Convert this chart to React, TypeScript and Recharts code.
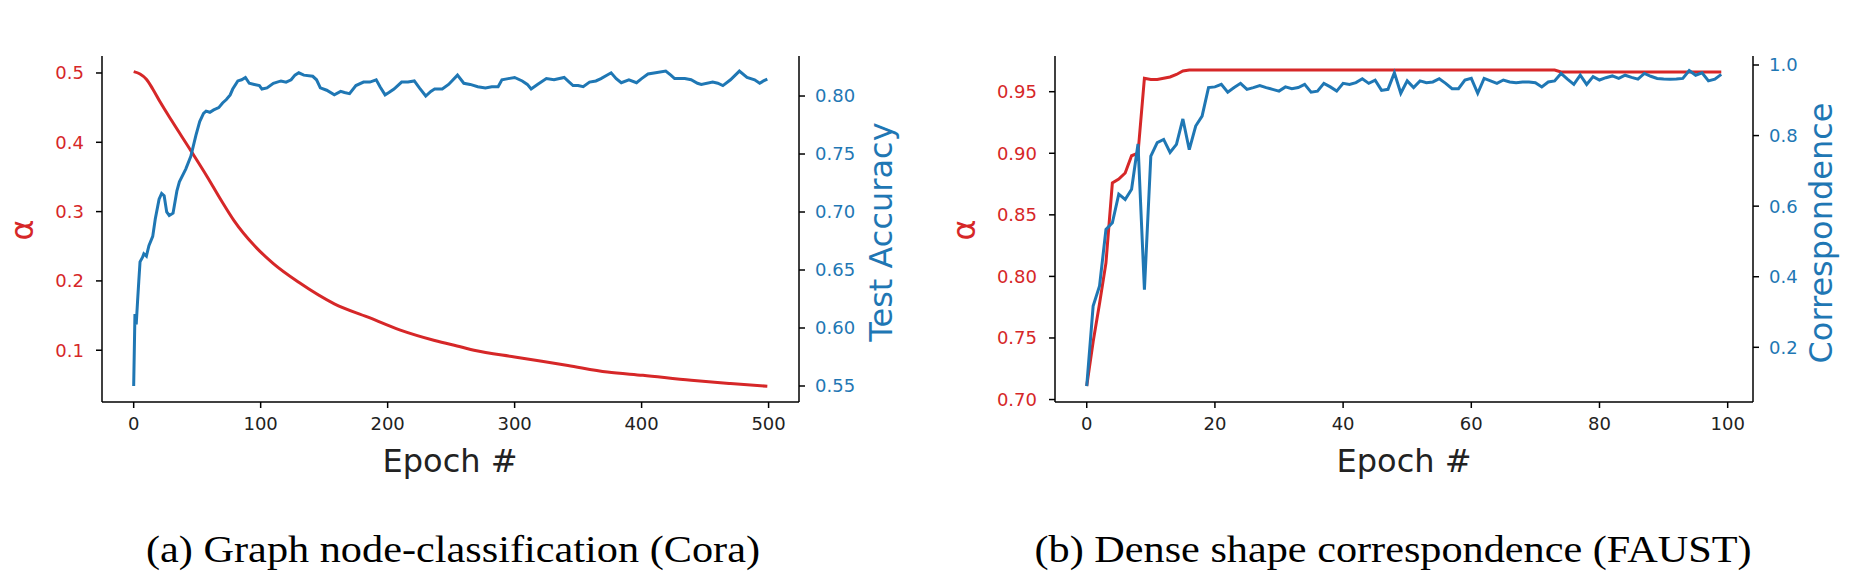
import React from "react";
import { LineChart, Line, XAxis, YAxis } from "recharts";

const RED = "#d62728";
const BLUE = "#1f77b4";
const TICK_FONT = "DejaVu Sans";

// ---------- (a) Cora ----------
const coraAlphaEpochs = [0, 5, 10, 15, 21, 30, 45, 58, 69, 79, 95, 110, 130, 158, 184, 210, 237, 258, 268, 300, 342, 373, 401, 439, 470, 499];
const coraAlpha = [0.502, 0.4985, 0.491, 0.477, 0.4577, 0.431, 0.388, 0.35, 0.316, 0.287, 0.251, 0.225, 0.198, 0.167, 0.148, 0.129, 0.114, 0.1046, 0.1, 0.0902, 0.078, 0.0686, 0.0638, 0.0566, 0.0519, 0.048];

const coraAccEpochs = [0, 1, 2, 3, 4, 5, 7, 8, 10, 12, 15, 17, 20, 22, 24, 26, 28, 31, 34, 36, 41, 45, 49, 52, 55, 57, 60, 63, 67, 70, 73, 76, 78, 82, 85, 88, 91, 95, 99, 101, 105, 110, 116, 120, 124, 127, 130, 134, 141, 144, 147, 152, 158, 163, 166, 170, 175, 181, 186, 191, 194, 198, 201, 205, 211, 216, 221, 225, 230, 234, 237, 243, 248, 255, 260, 265, 271, 277, 282, 287, 290, 295, 300, 306, 310, 313, 318, 325, 331, 339, 343, 346, 350, 354, 359, 364, 368, 376, 380, 384, 390, 396, 400, 405, 411, 419, 423, 426, 434, 439, 444, 447, 456, 460, 464, 470, 477, 483, 489, 493, 496, 499];
const coraAcc = [0.55, 0.612, 0.603, 0.622, 0.64, 0.657, 0.661, 0.664, 0.662, 0.671, 0.679, 0.694, 0.711, 0.716, 0.714, 0.7, 0.697, 0.699, 0.718, 0.726, 0.737, 0.748, 0.766, 0.778, 0.785, 0.787, 0.786, 0.788, 0.79, 0.794, 0.797, 0.801, 0.806, 0.813, 0.814, 0.816, 0.811, 0.81, 0.809, 0.806, 0.807, 0.811, 0.813, 0.812, 0.814, 0.818, 0.82, 0.818, 0.817, 0.814, 0.807, 0.805, 0.801, 0.804, 0.803, 0.802, 0.809, 0.812, 0.812, 0.814, 0.808, 0.801, 0.803, 0.806, 0.812, 0.812, 0.813, 0.807, 0.8, 0.804, 0.806, 0.806, 0.81, 0.818, 0.811, 0.81, 0.808, 0.807, 0.808, 0.808, 0.814, 0.815, 0.816, 0.813, 0.81, 0.806, 0.81, 0.815, 0.814, 0.816, 0.812, 0.809, 0.809, 0.808, 0.812, 0.813, 0.815, 0.82, 0.815, 0.8115, 0.814, 0.8115, 0.815, 0.819, 0.82, 0.8215, 0.818, 0.815, 0.815, 0.814, 0.811, 0.81, 0.812, 0.811, 0.809, 0.814, 0.8215, 0.816, 0.814, 0.811, 0.813, 0.8145];

const coraXTicks = [0, 100, 200, 300, 400, 500];
const coraAlphaTicks = [0.1, 0.2, 0.3, 0.4, 0.5];
const coraAccTicks = [0.55, 0.6, 0.65, 0.7, 0.75, 0.8];

// ---------- (b) FAUST ----------
const faustAlphaEpochs = [0, 1, 2, 3, 4, 5, 6, 7, 8, 9, 10, 11, 12, 13, 14, 15, 16, 73, 74, 99];
const faustAlpha = [0.711, 0.747, 0.778, 0.811, 0.876, 0.879, 0.884, 0.898, 0.9, 0.961, 0.96, 0.96, 0.961, 0.962, 0.964, 0.9668, 0.9676, 0.9676, 0.966, 0.966];

const faustCorrEpochs = [
  0, 1, 2, 3, 4, 5, 6, 7, 8, 9, 10, 11, 12, 13, 14, 15, 16, 17, 18, 19,
  20, 21, 22, 23, 24, 25, 26, 27, 28, 29, 30, 31, 32, 33, 34, 35, 36, 37, 38, 39,
  40, 41, 42, 43, 44, 45, 46, 47, 48, 49, 50, 51, 52, 53, 54, 55, 56, 57, 58, 59,
  60, 61, 62, 63, 64, 65, 66, 67, 68, 69, 70, 71, 72, 73, 74, 75, 76, 77, 78, 79,
  80, 81, 82, 83, 84, 85, 86, 87, 88, 89, 90, 91, 92, 93, 94, 95, 96, 97, 98, 99,
];
const faustCorr = [
  0.09, 0.317, 0.374, 0.534, 0.553, 0.634, 0.619, 0.648, 0.776, 0.363,
  0.742, 0.78, 0.789, 0.752, 0.775, 0.847, 0.76, 0.827, 0.855, 0.936,
  0.938, 0.945, 0.923, 0.936, 0.948, 0.931, 0.936, 0.942, 0.936, 0.931,
  0.926, 0.938, 0.933, 0.936, 0.945, 0.923, 0.926, 0.948, 0.938, 0.926,
  0.948, 0.945, 0.95, 0.961, 0.948, 0.957, 0.928, 0.931, 0.978, 0.92,
  0.955, 0.936, 0.955, 0.95, 0.952, 0.961, 0.948, 0.933, 0.933, 0.957,
  0.962, 0.92, 0.962, 0.955, 0.948, 0.9575, 0.952, 0.95, 0.952, 0.952,
  0.95, 0.938, 0.952, 0.955, 0.976, 0.96, 0.945, 0.971, 0.945, 0.967,
  0.9575, 0.964, 0.969, 0.962, 0.971, 0.965, 0.96, 0.976, 0.968, 0.962,
  0.96, 0.9594, 0.96, 0.962, 0.984, 0.971, 0.978, 0.955, 0.96, 0.9735,
];

const faustXTicks = [0, 20, 40, 60, 80, 100];
const faustAlphaTicks = [0.7, 0.75, 0.8, 0.85, 0.9, 0.95];
const faustCorrTicks = [0.2, 0.4, 0.6, 0.8, 1.0];

type Row = { epoch: number; alpha?: number; acc?: number };

function mergeSeries(ea: number[], va: number[], eb: number[], vb: number[]): Row[] {
  const map = new Map<number, Row>();
  ea.forEach((e, i) => {
    const r = map.get(e) || { epoch: e };
    r.alpha = va[i];
    map.set(e, r);
  });
  eb.forEach((e, i) => {
    const r = map.get(e) || { epoch: e };
    r.acc = vb[i];
    map.set(e, r);
  });
  return Array.from(map.values()).sort((a, b) => a.epoch - b.epoch);
}

const coraRows = mergeSeries(coraAlphaEpochs, coraAlpha, coraAccEpochs, coraAcc);
const faustRows = mergeSeries(faustAlphaEpochs, faustAlpha, faustCorrEpochs, faustCorr);

const axisLine = { stroke: "#000", strokeWidth: 1.5 };
const tickLine = { stroke: "#000", strokeWidth: 1.5 };

type PanelProps = {
  rows: Row[];
  left: number;
  width: number;
  marginLeft: number;
  marginRight: number;
  xDomain: [number, number];
  xTicks: number[];
  lDomain: [number, number];
  lTicks: number[];
  lFmt: (v: number) => string;
  rDomain: [number, number];
  rTicks: number[];
  rFmt: (v: number) => string;
  alphaType: "monotone" | "linear";
};

function Panel(p: PanelProps) {
  return (
    <div style={{ position: "absolute", left: p.left, top: 0 }}>
      <LineChart
        width={p.width}
        height={500}
        data={p.rows}
        margin={{ top: 56, right: p.marginRight, bottom: 58, left: p.marginLeft }}
      >
        <XAxis
          dataKey="epoch"
          type="number"
          domain={p.xDomain}
          ticks={p.xTicks}
          interval={0}
          height={40}
          axisLine={axisLine}
          tickLine={tickLine}
          tickSize={6}
          tickMargin={9}
          tick={{ fill: "#222", fontSize: 18, fontFamily: TICK_FONT }}
        />
        <XAxis
          xAxisId="top"
          dataKey="epoch"
          type="number"
          orientation="top"
          domain={p.xDomain}
          height={0}
          tick={false}
          tickLine={false}
          axisLine={axisLine}
        />
        <YAxis
          yAxisId="left"
          orientation="left"
          type="number"
          domain={p.lDomain}
          ticks={p.lTicks}
          interval={0}
          width={70}
          allowDataOverflow
          axisLine={axisLine}
          tickLine={tickLine}
          tickSize={6}
          tickMargin={12}
          tickFormatter={p.lFmt}
          tick={{ fill: RED, fontSize: 18, fontFamily: TICK_FONT }}
        />
        <YAxis
          yAxisId="right"
          orientation="right"
          type="number"
          domain={p.rDomain}
          ticks={p.rTicks}
          interval={0}
          width={70}
          allowDataOverflow
          axisLine={axisLine}
          tickLine={tickLine}
          tickSize={6}
          tickMargin={10}
          tickFormatter={p.rFmt}
          tick={{ fill: BLUE, fontSize: 18, fontFamily: TICK_FONT }}
        />
        <Line
          yAxisId="left"
          dataKey="alpha"
          type={p.alphaType}
          stroke={RED}
          strokeWidth={3}
          dot={false}
          activeDot={false}
          connectNulls
          isAnimationActive={false}
        />
        <Line
          yAxisId="right"
          dataKey="acc"
          type="linear"
          stroke={BLUE}
          strokeWidth={3}
          dot={false}
          activeDot={false}
          connectNulls
          isAnimationActive={false}
        />
      </LineChart>
    </div>
  );
}

const labelFont = { fontFamily: "DejaVu Sans", fontSize: 32 };
const captionFont = { fontFamily: "Liberation Serif", fontSize: 38 };

export default function App() {
  return (
    <div style={{ position: "absolute", left: 0, top: 0, width: 1857, height: 578, background: "#fff" }}>
      <Panel
        rows={coraRows}
        left={0}
        width={930}
        marginLeft={32}
        marginRight={61}
        xDomain={[-24.95, 523.95]}
        xTicks={coraXTicks}
        lDomain={[0.0253, 0.5245]}
        lTicks={coraAlphaTicks}
        lFmt={(v) => v.toFixed(1)}
        rDomain={[0.5362, 0.8345]}
        rTicks={coraAccTicks}
        rFmt={(v) => v.toFixed(2)}
        alphaType="monotone"
      />
      <Panel
        rows={faustRows}
        left={930}
        width={927}
        marginLeft={55}
        marginRight={34}
        xDomain={[-4.95, 103.95]}
        xTicks={faustXTicks}
        lDomain={[0.698, 0.979]}
        lTicks={faustAlphaTicks}
        lFmt={(v) => v.toFixed(2)}
        rDomain={[0.045, 1.0255]}
        rTicks={faustCorrTicks}
        rFmt={(v) => v.toFixed(1)}
        alphaType="linear"
      />
      <svg
        width={1857}
        height={578}
        style={{ position: "absolute", left: 0, top: 0, pointerEvents: "none" }}
      >
        <text x={450} y={472} textAnchor="middle" fill="#222" style={labelFont}>Epoch #</text>
        <text x={1404} y={472} textAnchor="middle" fill="#222" style={labelFont}>Epoch #</text>
        <text transform="translate(33,230) rotate(-90)" textAnchor="middle" fill={RED} style={labelFont}>α</text>
        <text transform="translate(975,230) rotate(-90)" textAnchor="middle" fill={RED} style={labelFont}>α</text>
        <text transform="translate(892,232) rotate(-90)" textAnchor="middle" fill={BLUE} style={labelFont}>Test Accuracy</text>
        <text transform="translate(1832,233) rotate(-90)" textAnchor="middle" fill={BLUE} style={labelFont}>Correspondence</text>
        <text x={453} y={562} textAnchor="middle" fill="#000" style={captionFont} textLength={614} lengthAdjust="spacingAndGlyphs">
          (a) Graph node-classification (Cora)
        </text>
        <text x={1393} y={562} textAnchor="middle" fill="#000" style={captionFont} textLength={717} lengthAdjust="spacingAndGlyphs">
          (b) Dense shape correspondence (FAUST)
        </text>
      </svg>
    </div>
  );
}
